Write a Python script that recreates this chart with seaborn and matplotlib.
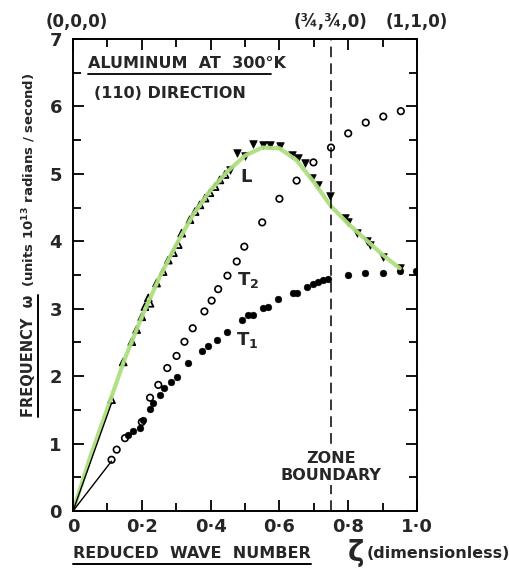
import matplotlib
matplotlib.use("Agg")
import matplotlib.pyplot as plt
import seaborn as sns
import numpy as np
from matplotlib.lines import Line2D

sns.set_style("white")
plt.rcParams['font.family'] = ['DejaVu Sans']
plt.rcParams['font.weight'] = 'bold'

# ---- data ----
fit_x = [0.0, 0.05, 0.10, 0.15, 0.20, 0.25, 0.30, 0.35, 0.40, 0.45, 0.50, 0.55, 0.60,
         0.65, 0.70, 0.75, 0.80, 0.85, 0.90, 0.95]
fit_y = [0.0, 0.80, 1.52, 2.25, 2.88, 3.45, 3.95, 4.40, 4.76, 5.04, 5.27, 5.39, 5.38,
         5.20, 4.88, 4.52, 4.26, 4.03, 3.80, 3.60]

L_open_x = [0.112, 0.146, 0.171, 0.185, 0.200, 0.209, 0.219, 0.224, 0.243, 0.262, 0.277,
            0.292, 0.306, 0.316, 0.340, 0.355, 0.369, 0.384, 0.398, 0.413, 0.427, 0.442]
L_open_y = [1.65, 2.21, 2.51, 2.69, 2.88, 3.03, 3.16, 3.08, 3.38, 3.55, 3.72,
            3.83, 3.95, 4.12, 4.32, 4.44, 4.54, 4.64, 4.72, 4.81, 4.91, 4.99]

L_fill_x = [0.456, 0.476, 0.500, 0.524, 0.553, 0.573, 0.602, 0.636, 0.655, 0.674, 0.694,
            0.713, 0.747, 0.791, 0.800, 0.825, 0.854, 0.863, 0.902, 0.951]
L_fill_y = [5.06, 5.31, 5.26, 5.45, 5.43, 5.43, 5.41, 5.28, 5.23, 5.16, 4.94,
            4.84, 4.67, 4.34, 4.29, 4.12, 4.00, 3.95, 3.77, 3.60]

T2_x = [0.112, 0.127, 0.151, 0.200, 0.224, 0.248, 0.274, 0.301, 0.324, 0.348, 0.382,
        0.403, 0.422, 0.449, 0.476, 0.498, 0.550, 0.600, 0.650, 0.699, 0.750, 0.800,
        0.851, 0.902, 0.953]
T2_y = [0.76, 0.91, 1.08, 1.32, 1.68, 1.87, 2.12, 2.30, 2.51, 2.71, 2.96,
        3.12, 3.29, 3.49, 3.70, 3.92, 4.28, 4.63, 4.90, 5.17, 5.39, 5.60,
        5.76, 5.85, 5.93]

T1_x = [0.161, 0.175, 0.195, 0.204, 0.224, 0.233, 0.253, 0.265, 0.284, 0.301, 0.335,
        0.374, 0.393, 0.418, 0.447, 0.490, 0.510, 0.524, 0.553, 0.568, 0.597, 0.640,
        0.650, 0.679, 0.699, 0.713, 0.728, 0.742, 0.800, 0.849, 0.900, 0.951, 0.997]
T1_y = [1.13, 1.18, 1.23, 1.35, 1.52, 1.60, 1.72, 1.82, 1.92, 1.99, 2.20,
        2.37, 2.44, 2.53, 2.66, 2.83, 2.91, 2.91, 3.01, 3.03, 3.14, 3.24,
        3.23, 3.32, 3.37, 3.40, 3.43, 3.44, 3.50, 3.53, 3.53, 3.56, 3.56]

slope_x = [0.0, 0.112]
slopeL_y = [0.0, 1.60]
slopeT_y = [0.0, 0.74]

x_ticklabels = ["0", "0·2", "0·4", "0·6", "0·8", "1·0"]
y_ticklabels = ["0", "1", "2", "3", "4", "5", "6", "7"]
top_labels = ["(0,0,0)", "(¾,¾,0)", "(1,1,0)"]
top_pos = [0.0, 0.75, 1.0]

# ---- figure ----
W, H = 510, 568
fig = plt.figure(figsize=(W / 100, H / 100), dpi=100)
ax = fig.add_axes([73 / W, 1 - 511 / H, (417 - 73) / W, (511 - 39) / H])

sns.lineplot(x=fit_x, y=fit_y, sort=False, ax=ax, color="#addf7f", lw=3.0, alpha=0.95)
sns.lineplot(x=slope_x, y=slopeL_y, ax=ax, color="black", lw=1.0)
sns.lineplot(x=slope_x, y=slopeT_y, ax=ax, color="black", lw=1.0)

sns.scatterplot(x=L_open_x, y=L_open_y, ax=ax, marker="^", s=24,
                facecolor="none", edgecolor="black", linewidth=1.3)
sns.scatterplot(x=L_fill_x, y=L_fill_y, ax=ax, marker="v", s=30,
                color="black", edgecolor="black", linewidth=0.5)
sns.scatterplot(x=T2_x, y=T2_y, ax=ax, marker="o", s=22,
                facecolor="none", edgecolor="black", linewidth=1.2)
sns.scatterplot(x=T1_x, y=T1_y, ax=ax, marker="o", s=24,
                color="black", edgecolor="black", linewidth=0.3)

ax.axvline(0.75, color="black", lw=1.1, ls=(0, (7, 4)))

ax.set_xlim(0, 1.0)
ax.set_ylim(0, 7)
for s in ax.spines.values():
    s.set_linewidth(1.4)
    s.set_color("black")

ax.set_xticks(np.arange(0, 1.01, 0.2))
ax.set_xticklabels(x_ticklabels, fontsize=13, fontweight="bold")
ax.set_xticks(np.arange(0, 1.01, 0.1), minor=True)
ax.set_yticks(range(8))
ax.set_yticklabels(y_ticklabels, fontsize=13, fontweight="bold")
ax.set_yticks(np.arange(0, 7.01, 0.5), minor=True)
ax.tick_params(which="both", direction="in", top=True, right=True, bottom=True, left=True,
               width=1.3, color="black")
ax.tick_params(which="major", length=8, pad=5)
ax.tick_params(which="minor", length=6)
ax.tick_params(axis="y", which="major", pad=8)

# top labels
for lab, p in zip(top_labels, top_pos):
    ax.text(p + (0.01 if p == 0 else 0), 1.018, lab, transform=ax.get_xaxis_transform(),
            ha="center", va="bottom", fontsize=12, fontweight="bold")

# inset title
ax.text(0.045, 0.948, "ALUMINUM  AT  300°K", transform=ax.transAxes, fontsize=11.5,
        fontweight="bold", ha="left", va="center")
ax.plot([0.045, 0.575], [0.925, 0.925], transform=ax.transAxes, color="black", lw=1.3)
ax.text(0.06, 0.885, "(110) DIRECTION", transform=ax.transAxes, fontsize=11.5,
        fontweight="bold", ha="left", va="center")

ax.text(0.503, 4.96, "L", fontsize=13, fontweight="bold", ha="center", va="center")
ax.text(0.51, 3.43, "T$_\\mathbf{2}$", fontsize=13, fontweight="bold", ha="center", va="center")
ax.text(0.505, 2.54, "T$_\\mathbf{1}$", fontsize=13, fontweight="bold", ha="center", va="center")
ax.text(0.75, 0.65, "ZONE\nBOUNDARY", fontsize=11.5, fontweight="bold", ha="center",
        va="center", linespacing=1.2, bbox=dict(facecolor="white", edgecolor="none", pad=1))

# x label with underline
renderer = fig.canvas.get_renderer()
t1 = fig.text(73 / W, 1 - 553 / H, "REDUCED  WAVE  NUMBER", fontsize=11.5, fontweight="bold",
              ha="left", va="center")
bb = t1.get_window_extent(renderer)
fig.add_artist(Line2D([bb.x0 / W, bb.x1 / W], [(bb.y0 - 3) / H, (bb.y0 - 3) / H],
                      color="black", lw=1.4, transform=fig.transFigure))
t2 = fig.text(348 / W, 1 - 553 / H, "ζ", fontsize=20, ha="left", va="center")
bb2 = t2.get_window_extent(renderer)
fig.text(bb2.x1 / W + 0.005, 1 - 553 / H, "(dimensionless)", fontsize=11.5,
         fontweight="bold", ha="left", va="center")

# y label with underline
t3 = fig.text(29 / W, 1 - 417 / H, "FREQUENCY  ω", fontsize=10.5, fontweight="bold",
              rotation=90, ha="center", va="bottom")
bb3 = t3.get_window_extent(renderer)
fig.add_artist(Line2D([(bb3.x1 + 2) / W, (bb3.x1 + 2) / W], [bb3.y0 / H, bb3.y1 / H],
                      color="black", lw=1.4, transform=fig.transFigure))
fig.text(29 / W, bb3.y1 / H + 0.014, "(units 10$^{\\mathbf{13}}$ radians / second)",
         fontsize=9.5, fontweight="bold", rotation=90, ha="center", va="bottom")

fig.savefig("out.png", dpi=100)
